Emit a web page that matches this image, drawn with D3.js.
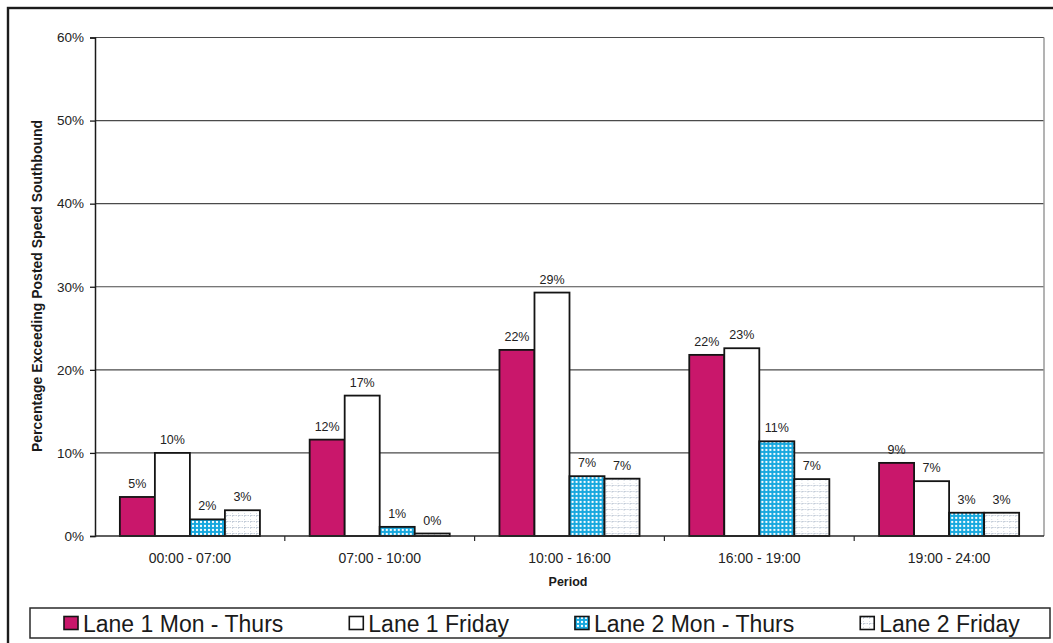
<!DOCTYPE html>
<html>
<head>
<meta charset="utf-8">
<script src="https://cdn.jsdelivr.net/npm/d3@7"></script>
<style>
  html, body { margin: 0; padding: 0; background: #ffffff; }
  svg { display: block; font-family: "Liberation Sans", Arial, sans-serif; }
</style>
</head>
<body>
<svg id="chart" width="1053" height="643"></svg>
<script>
// Time periods along the x axis
const periods = ["00:00 - 07:00", "07:00 - 10:00", "10:00 - 16:00", "16:00 - 19:00", "19:00 - 24:00"];

// Share of vehicles exceeding the posted speed, southbound (fractions)
const lane1MonThurs = [0.047, 0.116, 0.224, 0.218, 0.088];
const lane1Friday   = [0.100, 0.169, 0.293, 0.226, 0.066];
const lane2MonThurs = [0.020, 0.011, 0.072, 0.114, 0.028];
const lane2Friday   = [0.031, 0.003, 0.069, 0.0685, 0.028];

const seriesNames = ["Lane 1 Mon - Thurs", "Lane 1 Friday", "Lane 2 Mon - Thurs", "Lane 2 Friday"];
const yTicks = [0, 0.1, 0.2, 0.3, 0.4, 0.5, 0.6];

const seriesValues = [lane1MonThurs, lane1Friday, lane2MonThurs, lane2Friday];
const fills = ["#c9176b", "#ffffff", "url(#patBlue)", "url(#patDots)"];

const svg = d3.select("#chart");
const defs = svg.append("defs");

// Blue gingham fill for Lane 2 Mon - Thurs
const pb = defs.append("pattern").attr("id", "patBlue")
  .attr("patternUnits", "userSpaceOnUse").attr("width", 4).attr("height", 4);
pb.append("rect").attr("width", 4).attr("height", 4).attr("fill", "#14a7de");
pb.append("circle").attr("cx", 2).attr("cy", 2).attr("r", 1.15).attr("fill", "#ffffff");

// Faint dotted grid fill for Lane 2 Friday
const pd = defs.append("pattern").attr("id", "patDots")
  .attr("patternUnits", "userSpaceOnUse").attr("width", 6).attr("height", 6);
pd.append("rect").attr("width", 6).attr("height", 6).attr("fill", "#ffffff");
pd.append("line").attr("x1", 0).attr("x2", 6).attr("y1", 5.5).attr("y2", 5.5)
  .attr("stroke", "#c3ccd8").attr("stroke-width", 1).attr("stroke-dasharray", "1.5,1");
pd.append("line").attr("x1", 5.5).attr("x2", 5.5).attr("y1", 0).attr("y2", 6)
  .attr("stroke", "#d3dae3").attr("stroke-width", 1).attr("stroke-dasharray", "1,2");

// Outer frame
svg.append("rect").attr("x", 8).attr("y", 8).attr("width", 1100).attr("height", 700)
  .attr("fill", "none").attr("stroke", "#1c1c1c").attr("stroke-width", 2.4);

const plot = { left: 95, right: 1044, top: 37.5, bottom: 536 };

const x0 = d3.scaleBand().domain(periods).range([plot.left, plot.right]).padding(0);
const groupPad = x0.bandwidth() * 0.131;
const x1 = d3.scaleBand().domain(seriesNames).range([groupPad, x0.bandwidth() - groupPad]).padding(0);
const y = d3.scaleLinear().domain([0, 0.6]).range([plot.bottom, plot.top]);
const pct = d3.format(".0%");

// Horizontal gridlines
svg.append("g").selectAll("line").data(yTicks.filter(d => d > 0)).join("line")
  .attr("x1", plot.left).attr("x2", plot.right)
  .attr("y1", d => y(d)).attr("y2", d => y(d))
  .attr("stroke", "#4a4a4a").attr("stroke-width", 1.1);

// Right edge of the plot area
svg.append("line").attr("x1", plot.right).attr("x2", plot.right)
  .attr("y1", plot.top).attr("y2", plot.bottom)
  .attr("stroke", "#9a9a9a").attr("stroke-width", 1.5);

// Bars
const groups = svg.append("g").selectAll("g").data(periods).join("g")
  .attr("transform", d => `translate(${x0(d)},0)`);

groups.selectAll("rect")
  .data((p, i) => seriesNames.map((s, k) => ({ s, k, v: seriesValues[k][i] })))
  .join("rect")
  .attr("x", d => x1(d.s))
  .attr("width", x1.bandwidth())
  .attr("y", d => y(d.v))
  .attr("height", d => y(0) - y(d.v))
  .attr("fill", d => fills[d.k])
  .attr("stroke", "#141414").attr("stroke-width", 1.8);

// Value labels
groups.selectAll("text")
  .data((p, i) => seriesNames.map((s, k) => ({ s, k, v: seriesValues[k][i] })))
  .join("text")
  .attr("x", d => x1(d.s) + x1.bandwidth() / 2)
  .attr("y", d => y(d.v) - 9)
  .attr("text-anchor", "middle")
  .attr("font-size", 12.5).attr("fill", "#222")
  .text(d => pct(d.v));

// Y axis
const yAxis = svg.append("g").attr("transform", `translate(${plot.left},0)`)
  .call(d3.axisLeft(y).tickValues(yTicks).tickFormat(pct).tickSize(5).tickPadding(6));
yAxis.select(".domain").attr("stroke", "#1a1a1a").attr("stroke-width", 1.5);
yAxis.selectAll(".tick line").attr("stroke", "#1a1a1a").attr("stroke-width", 1.3);
yAxis.selectAll(".tick text").attr("font-size", 13.5).attr("fill", "#222")
  .attr("font-family", "'Liberation Sans', Arial, sans-serif");

// X axis: ticks sit on category boundaries
const xAxisG = svg.append("g").attr("transform", `translate(0,${plot.bottom})`);
xAxisG.append("line").attr("x1", plot.left).attr("x2", plot.right)
  .attr("y1", 0).attr("y2", 0).attr("stroke", "#2a2a2a").attr("stroke-width", 1.5);
xAxisG.selectAll("line.tk").data(periods.slice(1)).join("line").attr("class", "tk")
  .attr("x1", d => x0(d)).attr("x2", d => x0(d)).attr("y1", 0).attr("y2", 5)
  .attr("stroke", "#2a2a2a").attr("stroke-width", 1.2);
xAxisG.selectAll("text").data(periods).join("text")
  .attr("x", d => x0(d) + x0.bandwidth() / 2).attr("y", 26.5)
  .attr("text-anchor", "middle").attr("font-size", 14).attr("fill", "#222")
  .text(d => d);

// Axis titles
svg.append("text").attr("x", 568).attr("y", 586).attr("text-anchor", "middle")
  .attr("font-size", 12.5).attr("font-weight", "bold").attr("fill", "#1a1a1a").text("Period");
svg.append("text")
  .attr("transform", "translate(42,286) rotate(-90)")
  .attr("text-anchor", "middle").attr("font-size", 14).attr("font-weight", "bold")
  .attr("fill", "#1a1a1a").text("Percentage Exceeding Posted Speed Southbound");

// Legend
const legend = svg.append("g");
legend.append("rect").attr("x", 30).attr("y", 608).attr("width", 1020).attr("height", 30)
  .attr("fill", "#ffffff").attr("stroke", "#2a2a2a").attr("stroke-width", 1.5);
let lx = 64;
seriesNames.forEach((name, k) => {
  legend.append("rect").attr("x", lx).attr("y", 616.5).attr("width", 14).attr("height", 13)
    .attr("fill", fills[k]).attr("stroke", "#141414").attr("stroke-width", 1.6);
  const t = legend.append("text").attr("x", lx + 19).attr("y", 631.5)
    .attr("font-size", 23).attr("fill", "#1a1a1a").text(name);
  lx = lx + 19 + t.node().getComputedTextLength() + 66;
});
</script>
</body>
</html>
